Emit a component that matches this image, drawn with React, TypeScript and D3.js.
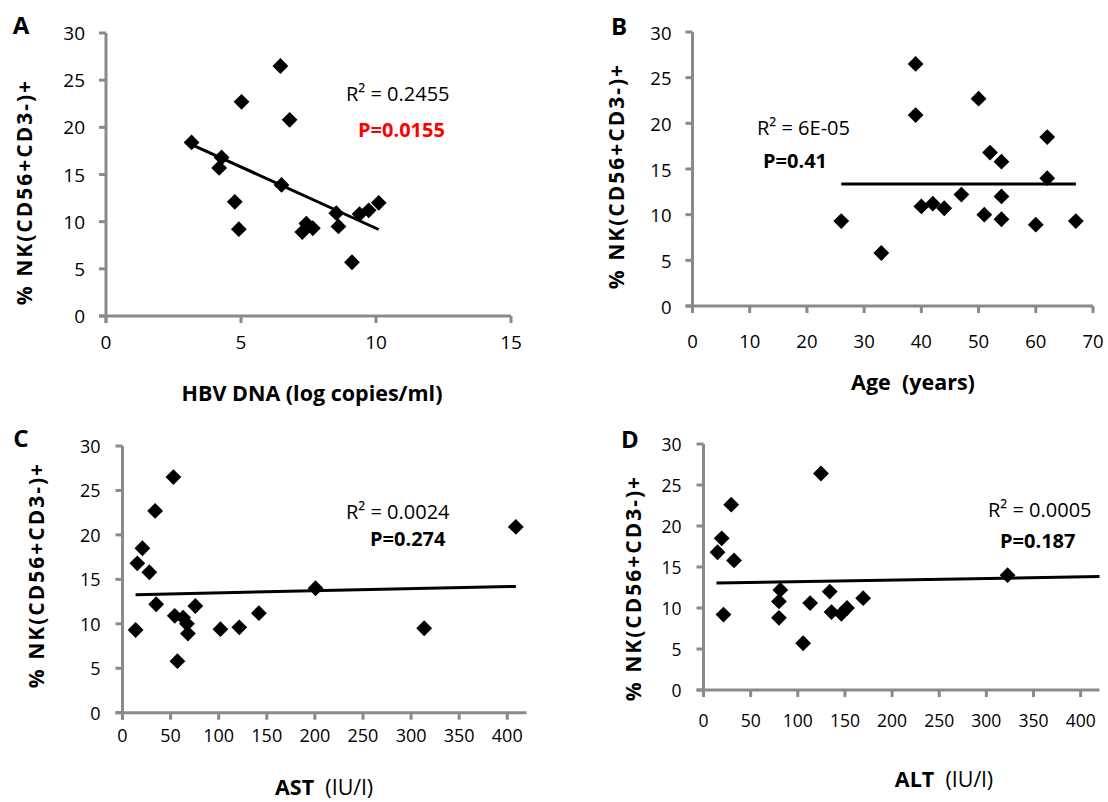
import * as d3 from 'd3'

// A: NK % vs HBV DNA
const hbvDna = [3.17, 4.28, 4.19, 6.46, 5.02, 6.8, 6.5, 4.77, 4.92, 7.27, 7.42, 7.66, 8.53, 8.61, 9.11, 9.39, 9.73, 10.1]
const nkByDna = [18.4, 16.8, 15.7, 26.5, 22.7, 20.8, 13.9, 12.1, 9.2, 8.9, 9.8, 9.3, 10.9, 9.5, 5.7, 10.8, 11.2, 12.0]

// B: NK % vs age
const age = [26, 33, 39, 39, 40, 42, 44, 47, 50, 51, 52, 54, 54, 54, 60, 62, 62, 67]
const nkByAge = [9.3, 5.8, 26.5, 20.9, 10.9, 11.2, 10.7, 12.2, 22.7, 10.0, 16.8, 15.8, 12.0, 9.5, 8.9, 18.5, 14.0, 9.3]

// C: NK % vs AST
const ast = [13.6, 15.4, 20.7, 27.9, 33.9, 35, 52.9, 54.3, 57.1, 63, 67, 68, 75.7, 101.8, 121.4, 141.8, 200.7, 313.6, 408.9]
const nkByAst = [9.3, 16.8, 18.5, 15.8, 22.7, 12.2, 26.5, 10.9, 5.8, 10.7, 10.0, 8.9, 12.0, 9.4, 9.6, 11.2, 14.0, 9.5, 20.9]

// D: NK % vs ALT
const alt = [14.9, 19.3, 29.4, 32.4, 21.2, 124.6, 81.5, 80, 80, 105.7, 113.1, 133.9, 135.8, 146.2, 152.2, 169.3, 322.5]
const nkByAlt = [16.8, 18.5, 22.6, 15.8, 9.2, 26.4, 12.2, 10.8, 8.8, 5.7, 10.6, 12.0, 9.5, 9.3, 10.0, 11.2, 14.0]

const yTickValues = [0, 5, 10, 15, 20, 25, 30]
const dnaTicks = [0, 5, 10, 15]
const ageTicks = [0, 10, 20, 30, 40, 50, 60, 70]
const enzymeTicks = [0, 50, 100, 150, 200, 250, 300, 350, 400]

// linear trendlines (slope, intercept, x span) as shown
const trendSlopes = [-1.3, 0, 0.00237, 0.0019]
const trendIntercepts = [22.3, 13.35, 13.24, 13.03]
const trendSpans = [[3.17, 10.1], [26, 67], [13.6, 408.9], [13.8, 420]]

const r2Labels = ['R² = 0.2455', 'R² = 6E-05', 'R² = 0.0024', 'R² = 0.0005']
const pLabels = ['P=0.0155', 'P=0.41', 'P=0.274', 'P=0.187']
const xTitleBold = ['HBV DNA (log copies/ml)', 'Age  (years)', 'AST', 'ALT']
const xTitleRest = ['', '', '  (IU/l)', '  (IU/l)']
const yTitle = '% NK(CD56+CD3-)+'
const letters = ['A', 'B', 'C', 'D']

const FONT = '"Open Sans", "Noto Sans", sans-serif'
const AXIS = '#8a8a8a'

const panels = [
  { xs: hbvDna, ys: nkByDna, xMax: 15, xTicks: dnaTicks, left: 106, right: 511, top: 33, bottom: 316,
    letterAt: [21, 24], yTitleAt: [24, 192], xTitleAt: [312, 392], r2At: [346, 93], pAt: [358, 129],
    pColor: '#ff0000', tickFont: 19, xLabelGap: 26, yLabelGap: 21 },
  { xs: age, ys: nkByAge, xMax: 70, xTicks: ageTicks, left: 692.5, right: 1093, top: 32, bottom: 306,
    letterAt: [619, 25], yTitleAt: [616, 176], xTitleAt: [913, 381], r2At: [757, 127], pAt: [763, 160],
    pColor: '#000', tickFont: 18.5, xLabelGap: 34, yLabelGap: 21 },
  { xs: ast, ys: nkByAst, xMax: 420, xTicks: enzymeTicks, left: 122.5, right: 526.5, top: 446, bottom: 712.7,
    letterAt: [21, 437], yTitleAt: [36, 575], xTitleAt: [324, 786], r2At: [346, 511], pAt: [370, 538],
    pColor: '#000', tickFont: 18, xLabelGap: 22, yLabelGap: 22 },
  { xs: alt, ys: nkByAlt, xMax: 420, xTicks: enzymeTicks, left: 703.5, right: 1099.5, top: 444, bottom: 690,
    letterAt: [630, 438], yTitleAt: [633, 588], xTitleAt: [944, 778], r2At: [988, 509], pAt: [1000, 540],
    pColor: '#000', tickFont: 17.5, xLabelGap: 30, yLabelGap: 22 },
]

const diamond = d3.symbol(d3.symbolSquare, 125)()

function Panel({ p, i }: { p: any; i: number }) {
  const x = d3.scaleLinear().domain([0, p.xMax]).range([p.left, p.right])
  const y = d3.scaleLinear().domain([0, 30]).range([p.bottom, p.top])
  const f = (v: number) => trendSlopes[i] * v + trendIntercepts[i]
  const trend = d3.line<number>().x(v => x(v)).y(v => y(f(v)))(trendSpans[i])
  const tick = 7

  return (
    <g fontFamily={FONT}>
      <text x={p.letterAt[0]} y={p.letterAt[1]} fontSize={24} fontWeight="bold"
        textAnchor="middle" dominantBaseline="central">{letters[i]}</text>

      {/* axes */}
      <line x1={x(0)} x2={x(0)} y1={y(30)} y2={y(0) + tick} stroke={AXIS} strokeWidth={3} />
      <line x1={x(0) - tick} x2={x(p.xMax)} y1={y(0)} y2={y(0)} stroke={AXIS} strokeWidth={3} />
      {yTickValues.map(t => (
        <g key={'y' + t}>
          <line x1={x(0) - tick} x2={x(0)} y1={y(t)} y2={y(t)} stroke={AXIS} strokeWidth={3} />
          <text x={x(0) - p.yLabelGap} y={y(t)} textAnchor="end" dominantBaseline="central"
            fontSize={p.tickFont}>{t}</text>
        </g>
      ))}
      {p.xTicks.map((t: number) => (
        <g key={'x' + t}>
          <line x1={x(t)} x2={x(t)} y1={y(0)} y2={y(0) + tick} stroke={AXIS} strokeWidth={3} />
          <text x={x(t)} y={y(0) + p.xLabelGap} textAnchor="middle" dominantBaseline="central"
            fontSize={p.tickFont}>{t}</text>
        </g>
      ))}

      {/* titles */}
      <text transform={`translate(${p.yTitleAt[0]},${p.yTitleAt[1]}) rotate(-90)`} textAnchor="middle"
        dominantBaseline="central" fontSize={21} fontWeight="bold" letterSpacing={2}>{yTitle}</text>
      <text x={p.xTitleAt[0]} y={p.xTitleAt[1]} textAnchor="middle" dominantBaseline="central"
        fontSize={21.5} style={{ whiteSpace: 'pre' }}>
        <tspan fontWeight="bold">{xTitleBold[i]}</tspan>
        {xTitleRest[i] && <tspan>{xTitleRest[i]}</tspan>}
      </text>

      {/* points and trendline */}
      {p.xs.map((v: number, k: number) => (
        <path key={k} d={diamond ?? ''} fill="#000"
          transform={`translate(${x(v)},${y(p.ys[k])}) rotate(45)`} />
      ))}
      <path d={trend ?? ''} fill="none" stroke="#000" strokeWidth={3} />

      <text x={p.r2At[0]} y={p.r2At[1]} fontSize={20} dominantBaseline="central">{r2Labels[i]}</text>
      <text x={p.pAt[0]} y={p.pAt[1]} fontSize={20} fontWeight="bold" fill={p.pColor}
        dominantBaseline="central">{pLabels[i]}</text>
    </g>
  )
}

export default function App() {
  return (
    <svg width={1108} height={802} style={{ position: 'absolute', left: 0, top: 0, background: '#fff' }}>
      <rect width={1108} height={802} fill="#fff" />
      {panels.map((p, i) => <Panel key={i} p={p} i={i} />)}
    </svg>
  )
}
